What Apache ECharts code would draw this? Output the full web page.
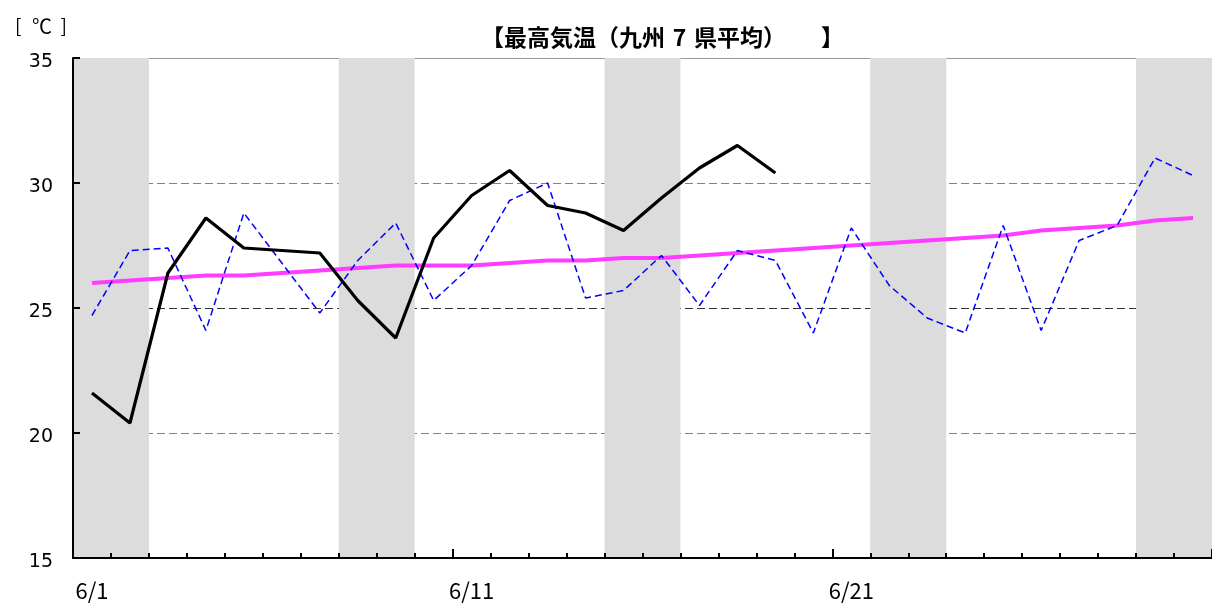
<!DOCTYPE html>
<html>
<head>
<meta charset="utf-8">
<script src="https://cdn.jsdelivr.net/npm/echarts@6/dist/echarts.min.js"></script>
<style>
html,body{margin:0;padding:0;background:#fff;}
#chart{width:1212px;height:604px;}
</style>
</head>
<body>
<div id="chart"></div>
<script>
// ---- data ----
const days = ['6/1','6/2','6/3','6/4','6/5','6/6','6/7','6/8','6/9','6/10',
  '6/11','6/12','6/13','6/14','6/15','6/16','6/17','6/18','6/19','6/20',
  '6/21','6/22','6/23','6/24','6/25','6/26','6/27','6/28','6/29','6/30'];
// weekend (Sat-Sun) spans: [first day, last day]
const weekends = [['6/1','6/2'], ['6/8','6/9'], ['6/15','6/16'], ['6/22','6/23'], ['6/29','6/30']];
// this year (black solid)
const thisYear = [21.6, 20.4, 26.4, 28.6, 27.4, 27.3, 27.2, 25.3, 23.8, 27.8,
  29.5, 30.5, 29.1, 28.8, 28.1, 29.4, 30.6, 31.5, 30.4, null,
  null, null, null, null, null, null, null, null, null, null];
// last year (blue dashed)
const lastYear = [24.7, 27.3, 27.4, 24.1, 28.8, 26.8, 24.8, 26.9, 28.4, 25.3,
  26.7, 29.3, 30.0, 25.4, 25.7, 27.1, 25.1, 27.3, 26.9, 24.0,
  28.2, 25.9, 24.6, 24.0, 28.3, 24.1, 27.7, 28.3, 31.0, 30.3];
// normal (magenta)
const normal = [26.0, 26.1, 26.2, 26.3, 26.3, 26.4, 26.5, 26.6, 26.7, 26.7,
  26.7, 26.8, 26.9, 26.9, 27.0, 27.0, 27.1, 27.2, 27.3, 27.4,
  27.5, 27.6, 27.7, 27.8, 27.9, 28.1, 28.2, 28.3, 28.5, 28.6];
const yMin = 15, yMax = 35, yStep = 5;
const xLabelDays = ['6/1','6/11','6/21'];

const chart = echarts.init(document.getElementById('chart'), null, {renderer:'canvas'});
const jp = "'Noto Sans CJK JP', 'Noto Sans', sans-serif";
const bandAreas = weekends.map(([a, b]) => [
  {xAxis: days.indexOf(a)}, {xAxis: days.indexOf(b) + 1}
]);

const tBase = {fontFamily: jp, fontSize: 23, fontWeight: 'bold', color: '#000'};
const option = {
  animation: false,
  backgroundColor: '#fff',
  title: [
    {text: '{b1|【}{t|最高気温}{p1|（}{t|九州}{d|7}{t|県平均}{p2|）}{b2|】}',
     left: 476, top: 21,
     textStyle: {fontFamily: jp, fontSize: 23, fontWeight: 'bold', color: '#000',
       rich: {
         b1: Object.assign({}, tBase, {width: 23, align: 'right'}),
         t: Object.assign({}, tBase),
         p1: Object.assign({}, tBase, {width: 23, align: 'center'}),
         d: Object.assign({}, tBase, {width: 29, align: 'center'}),
         p2: Object.assign({}, tBase, {width: 23, align: 'center'}),
         b2: Object.assign({}, tBase, {width: 58, align: 'right'})
       }}},
    {text: '{a|[}{c|℃}{e|]}', left: 10, top: 11,
     textStyle: {fontFamily: jp, fontSize: 18, fontWeight: 'normal', color: '#000',
       rich: {
         a: {fontFamily: jp, fontSize: 19, color: '#000', width: 14, align: 'left'},
         c: {fontFamily: jp, fontSize: 20, color: '#000', width: 26, align: 'center'},
         e: {fontFamily: jp, fontSize: 19, color: '#000', width: 12, align: 'right'}
       }}}
  ],
  grid: {left: 73, top: 58, width: 1145, height: 500, containLabel: false},
  xAxis: [
    {type: 'category', data: days, boundaryGap: true, position: 'bottom',
     axisLine: {lineStyle: {color: '#000', width: 2}},
     axisTick: {show: true, inside: true, length: 5, interval: 0, lineStyle: {color: '#000', width: 2}},
     axisLabel: {interval: (i, v) => xLabelDays.includes(v), margin: 22,
       fontFamily: jp, fontSize: 22, color: '#000'},
     splitLine: {show: false}, z: 5},
    {type: 'category', data: days, boundaryGap: true, position: 'bottom', offset: 0,
     axisLine: {show: false},
     axisTick: {show: true, inside: true, length: 9, interval: 9, lineStyle: {color: '#000', width: 2}},
     axisLabel: {show: false}, splitLine: {show: false}, z: 5},
    {type: 'value', min: 0, max: days.length, show: false, position: 'top',
     splitLine: {show: false}}
  ],
  yAxis: [
    {type: 'value', min: yMin, max: yMax, interval: yStep,
     axisLine: {show: false}, axisTick: {show: false}, axisLabel: {show: false},
     splitLine: {show: true, lineStyle: {type: [8, 4], width: 1,
       color: ['rgba(0,0,0,0)', '#808080', '#333333', '#808080', 'rgba(0,0,0,0)']}}, z: 0},
    {type: 'value', min: yMin, max: yMax, interval: yMax - yMin, position: 'left',
     axisLine: {show: false}, axisTick: {show: false}, axisLabel: {show: false},
     splitLine: {show: true, lineStyle: {type: 'solid', width: 1, color: ['rgba(0,0,0,0)', '#999999']}}, z: 0},
    {type: 'value', min: yMin, max: yMax, interval: yStep, position: 'left',
     axisLine: {show: true, lineStyle: {color: '#000', width: 2}},
     axisTick: {show: true, inside: true, length: 7, lineStyle: {color: '#000', width: 2}},
     axisLabel: {margin: 20, formatter: '{v|{value}}',
       rich: {v: {fontFamily: "'DejaVu Sans', sans-serif", fontSize: 19, color: '#000', padding: [9, 0, 0, 0]}}},
     splitLine: {show: false}, z: 5}
  ],
  series: [
    {type: 'line', name: 'weekend', data: [], xAxisIndex: 2, yAxisIndex: 0, silent: true, z: 1,
     markArea: {silent: true, itemStyle: {color: '#dcdcdc'}, label: {show: false},
       data: bandAreas}},
    {type: 'line', name: '平年', data: normal, symbol: 'none', smooth: false,
     xAxisIndex: 0, yAxisIndex: 0,
     lineStyle: {color: '#ff3cff', width: 4}, z: 3},
    {type: 'line', name: '昨年', data: lastYear, symbol: 'none', smooth: false,
     xAxisIndex: 0, yAxisIndex: 0,
     lineStyle: {color: '#0000ff', width: 1.5, type: [7, 4]}, z: 3},
    {type: 'line', name: '今年', data: thisYear, symbol: 'none', smooth: false, connectNulls: false,
     xAxisIndex: 0, yAxisIndex: 0,
     lineStyle: {color: '#000000', width: 3.2}, z: 4}
  ]
};
chart.setOption(option);
</script>
</body>
</html>
